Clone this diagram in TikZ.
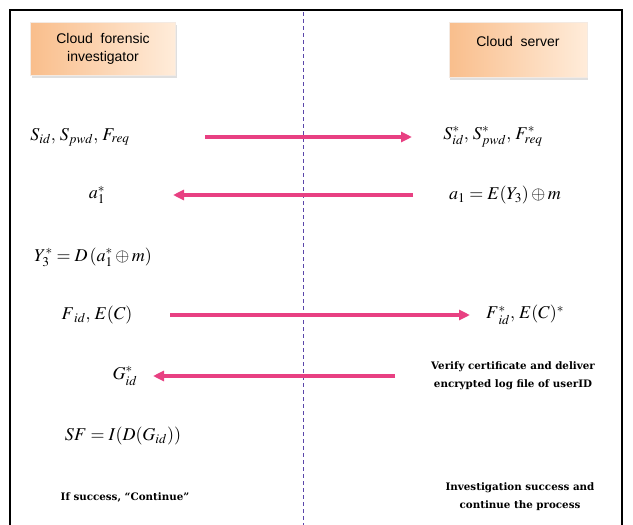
\documentclass[tikz,border=0pt]{standalone}
\usepackage{mathptmx}
\usepackage{fontspec}
\setmainfont{DejaVu Serif}
\newfontfamily\boxfont{Liberation Sans}
\usetikzlibrary{arrows.meta,shadows}
\definecolor{peach}{RGB}{249,190,140}
\definecolor{peachlight}{RGB}{255,236,218}
\definecolor{msgpink}{RGB}{232,64,130}
\definecolor{midline}{RGB}{90,70,170}
\tikzset{
  party/.style={shade, left color=peach, right color=peachlight,
    draw=peach!80!black!20, align=center, font=\boxfont\fontsize{14}{18}\selectfont,
    drop shadow={opacity=0.25, shadow xshift=1pt, shadow yshift=-2pt}},
  msg/.style={line width=3.5pt, msgpink, -{Triangle[length=11pt,width=10pt]}},
  eq/.style={font=\fontsize{18}{20}\selectfont},
  note/.style={font=\bfseries\fontsize{10.3}{18}\selectfont, align=center}
}
\begin{document}
\begin{tikzpicture}[x=1pt,y=-1pt]
  \useasboundingbox (0,0) rectangle (633,525);
  \fill[white] (0,0) rectangle (633,525);
  \draw[line width=1.4pt] (10,525) -- (10,10) -- (622,10) -- (622,525);
  \draw[midline, dash pattern=on 4pt off 3pt, thin] (303,12) -- (303,525);
  % the two parties
  \node[party, minimum width=145pt, minimum height=53pt] (cfi) at (103,49)
    {Cloud \ forensic\\investigator};
  \node[party, minimum width=138pt, minimum height=55pt] (cs) at (518,50)
    {Cloud \ server\\~};
  % messages
  \node[eq] (req) at (80,137) {$S_{id},\,S_{pwd},\,F_{req}$};
  \node[eq] (reqs) at (493,137) {$S^{*}_{id},\,S^{*}_{pwd},\,F^{*}_{req}$};
  \coordinate (m1a) at (205,137);
  \coordinate (m1b) at (412,137);
  \draw[msg] (m1a) -- (m1b);
  \node[eq] (as) at (97,195) {$a^{*}_{1}$};
  \node[eq] (a) at (505,195) {$a_{1}=E(Y_{3})\oplus m$};
  \coordinate (m2a) at (413,195);
  \coordinate (m2b) at (173,195);
  \draw[msg] (m2a) -- (m2b);
  \node[eq] (ys) at (93,257) {$Y^{*}_{3}=D\left(a^{*}_{1}\oplus m\right)$};
  \node[eq] (fc) at (97,315) {$F{}_{id},\,E(C)$};
  \node[eq] (fcs) at (525,315) {$F{}^{*}_{id},\,E(C)^{*}$};
  \coordinate (m3a) at (170,315);
  \coordinate (m3b) at (470,315);
  \draw[msg] (m3a) -- (m3b);
  \node[eq] (gs) at (125,376) {$G^{*}_{id}$};
  \node[note] (verify) at (513,376) {Verify certificate and deliver\\encrypted log file of userID};
  \coordinate (m4a) at (395,376);
  \coordinate (m4b) at (153,376);
  \draw[msg] (m4a) -- (m4b);
  \node[eq] (sf) at (123,436) {$SF=I(D(G_{id}))$};
  \node[note] (cont) at (125,497) {If success, ``Continue''};
  \node[note] (done) at (520,497) {Investigation success and\\continue the process};
\end{tikzpicture}
\end{document}
